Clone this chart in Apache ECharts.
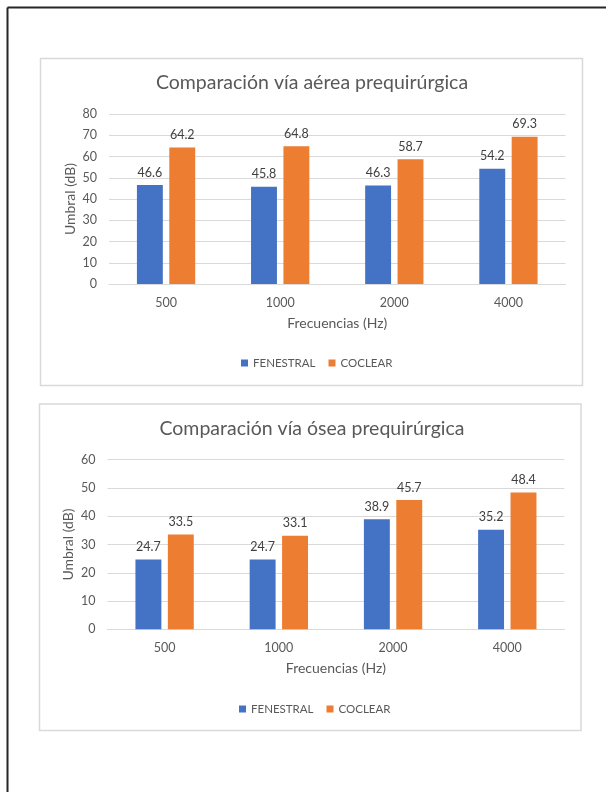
<!DOCTYPE html>
<html>
<head>
<meta charset="utf-8">
<script src="https://cdn.jsdelivr.net/npm/echarts@6/dist/echarts.min.js"></script>
<style>
html,body{margin:0;padding:0;background:#fff;}
#page{position:absolute;left:0;top:0;width:606px;height:792px;}
</style>
</head>
<body>
<div id="page"></div>
<script>
var categories = ['500', '1000', '2000', '4000'];
var seriesNames = ['FENESTRAL', 'COCLEAR'];
var aereaFenestral = [46.6, 45.8, 46.3, 54.2];
var aereaCoclear = [64.2, 64.8, 58.7, 69.3];
var oseaFenestral = [24.7, 24.7, 38.9, 35.2];
var oseaCoclear = [33.5, 33.1, 45.7, 48.4];
var titles = ['Comparación vía aérea prequirúrgica', 'Comparación vía ósea prequirúrgica'];
var yAxisName = 'Umbral (dB)';
var xAxisName = 'Frecuencias (Hz)';
var yMax1 = 80, yMax2 = 60, yInterval = 10;

var FONT = 'Lato';
var BLUE = '#4472C4', ORANGE = '#ED7D31';
var GRID = '#d9d9d9';

var chart = echarts.init(document.getElementById('page'), null, {renderer: 'canvas'});

function xAxis(gi) {
  return {
    type: 'category', gridIndex: gi, data: categories,
    axisLine: {show: true, lineStyle: {color: GRID, width: 1}},
    axisTick: {show: false},
    axisLabel: {color: '#595959', fontFamily: FONT, fontSize: 12.5, margin: 12},
    name: xAxisName, nameLocation: 'middle', nameGap: 32,
    nameTextStyle: {color: '#595959', fontFamily: FONT, fontSize: 14}
  };
}
function yAxis(gi, max) {
  return {
    type: 'value', gridIndex: gi, min: 0, max: max, interval: yInterval,
    axisLine: {show: false}, axisTick: {show: false},
    splitLine: {lineStyle: {color: GRID, width: 1}},
    axisLabel: {color: '#595959', fontFamily: FONT, fontSize: 12.5, margin: 12},
    name: yAxisName, nameLocation: 'middle', nameGap: 32, nameRotate: 90,
    nameMoveOverlap: false,
    nameTextStyle: {color: '#595959', fontFamily: FONT, fontSize: 14}
  };
}
function bar(name, data, color, gi) {
  return {
    type: 'bar', name: name, data: data, xAxisIndex: gi, yAxisIndex: gi,
    barWidth: '22.7%', barGap: '25%',
    itemStyle: {color: color},
    label: {show: true, position: 'top', distance: 6, color: '#404040',
            fontFamily: FONT, fontSize: 12.5},
    animation: false
  };
}

var option = {
  animation: false,
  graphic: [
    {type: 'line', shape: {x1: 7.5, y1: 7.5, x2: 606, y2: 7.5}, style: {stroke: '#262626', lineWidth: 2}},
    {type: 'line', shape: {x1: 7.5, y1: 7.5, x2: 7.5, y2: 792}, style: {stroke: '#262626', lineWidth: 2}},
    {type: 'rect', shape: {x: 40.5, y: 58.5, width: 542, height: 327}, style: {fill: 'none', stroke: '#d9d9d9', lineWidth: 1.5}, z: -1},
    {type: 'rect', shape: {x: 39.5, y: 404, width: 541.5, height: 326.5}, style: {fill: 'none', stroke: '#d9d9d9', lineWidth: 1.5}, z: -1}
  ],
  title: [
    {text: titles[0], left: 312, top: 72.5, textAlign: 'center', padding: 0,
     textStyle: {color: '#595959', fontFamily: FONT, fontSize: 19.5, fontWeight: 'normal'}},
    {text: titles[1], left: 312, top: 418.5, textAlign: 'center', padding: 0,
     textStyle: {color: '#595959', fontFamily: FONT, fontSize: 19.5, fontWeight: 'normal'}}
  ],
  legend: [
    {data: seriesNames, top: 357, left: 241, icon: 'rect', itemWidth: 7, itemHeight: 7, itemGap: 13, padding: 0,
     textStyle: {color: '#595959', fontFamily: FONT, fontSize: 11.5}, selectedMode: false},
    {data: seriesNames, top: 703, left: 239, icon: 'rect', itemWidth: 7, itemHeight: 7, itemGap: 13, padding: 0,
     textStyle: {color: '#595959', fontFamily: FONT, fontSize: 11.5}, selectedMode: false}
  ],
  grid: [
    {left: 109, right: 40.5, top: 114, bottom: 508},
    {left: 107.5, right: 41.6, top: 459.7, bottom: 162.7}
  ],
  xAxis: [xAxis(0), xAxis(1)],
  yAxis: [yAxis(0, yMax1), yAxis(1, yMax2)],
  series: [
    bar(seriesNames[0], aereaFenestral, BLUE, 0),
    bar(seriesNames[1], aereaCoclear, ORANGE, 0),
    bar(seriesNames[0], oseaFenestral, BLUE, 1),
    bar(seriesNames[1], oseaCoclear, ORANGE, 1)
  ]
};
chart.setOption(option);
</script>
</body>
</html>
